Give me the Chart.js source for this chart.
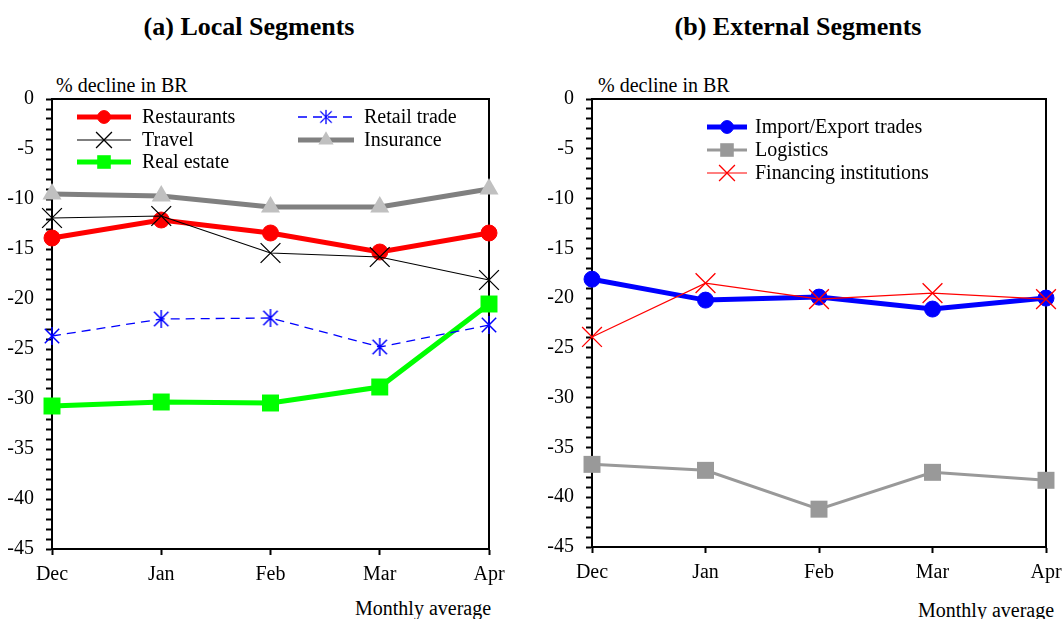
<!DOCTYPE html>
<html>
<head>
<meta charset="utf-8">
<script src="https://cdn.jsdelivr.net/npm/chart.js@4.4.1/dist/chart.umd.min.js"></script>
<style>
  html, body { margin: 0; padding: 0; background: #fff; width: 1063px; height: 619px; overflow: hidden; }
  canvas { position: absolute; top: 0; }
  .txt { position: absolute; font-family: "Liberation Serif", "Times New Roman", serif; color: #000; white-space: nowrap; line-height: 1; }
  .title { font-size: 26px; font-weight: bold; transform: translate(-50%, -50%); }
  .cap { font-size: 20px; transform: translateY(-50%); }
</style>
</head>
<body>
<div class="txt title" style="left:249px; top:27px;">(a) Local Segments</div>
<div class="txt title" style="left:798px; top:27px;">(b) External Segments</div>
<div class="txt cap" style="left:56px; top:85px;">% decline in BR</div>
<div class="txt cap" style="left:598px; top:85px;">% decline in BR</div>
<div class="txt cap" style="left:355px; top:608px;">Monthly average</div>
<div class="txt cap" style="left:918px; top:610px;">Monthly average</div>

<canvas id="local" width="531" height="619" style="left:0px;"></canvas>
<canvas id="external" width="540" height="619" style="left:540px;"></canvas>

<script>
// Months on the horizontal axis
const months = ['Dec', 'Jan', 'Feb', 'Mar', 'Apr'];

// (a) Local segments, % decline in BR
const restaurants = [-13.9, -12.1, -13.4, -15.3, -13.4];
const travel      = [-11.9, -11.7, -15.4, -15.8, -18.1];
const realEstate  = [-30.7, -30.3, -30.4, -28.8, -20.5];
const retailTrade = [-23.7, -22.0, -21.9, -24.8, -22.6];
const insurance   = [-9.5, -9.7, -10.8, -10.8, -9.0];

// (b) External segments, % decline in BR
const importExport = [-18.1, -20.2, -19.9, -21.1, -20.0];
const logistics    = [-36.7, -37.3, -41.2, -37.5, -38.3];
const financing    = [-23.9, -18.5, -20.1, -19.5, -20.1];

// Value axis
const yMin = -45, yMax = 0, yMajor = 5, yMinor = 1;

const FONT = '"Liberation Serif", "Times New Roman", serif';
const FONT_SIZE = 20;

// Asterisk marker: vertical stroke plus an X
function asterisk(color, size) {
  const c = document.createElement('canvas');
  c.width = size; c.height = size;
  const g = c.getContext('2d');
  const m = size / 2, r = size / 2 - 1;
  g.strokeStyle = color; g.lineWidth = 1.5;
  g.beginPath();
  g.moveTo(m, m - r); g.lineTo(m, m + r);
  const d = r * 0.8;
  g.moveTo(m - d, m - d); g.lineTo(m + d, m + d);
  g.moveTo(m + d, m - d); g.lineTo(m - d, m + d);
  g.stroke();
  return c;
}

// Marker drawing for the in-plot legend
function drawMarker(ctx, ds, x, y, scale) {
  const r = ds.pointRadius * scale;
  const style = ds.pointStyle;
  ctx.save();
  ctx.setLineDash([]);
  ctx.fillStyle = ds.pointBackgroundColor;
  ctx.strokeStyle = ds.pointBorderColor;
  ctx.lineWidth = ds.pointBorderWidth;
  if (style instanceof HTMLCanvasElement) {
    const s = style.width * scale;
    ctx.drawImage(style, x - s / 2, y - s / 2, s, s);
  } else if (style === 'circle') {
    ctx.beginPath(); ctx.arc(x, y, r, 0, Math.PI * 2); ctx.fill();
    if (ds.pointBorderWidth) ctx.stroke();
  } else if (style === 'rect') {
    const h = r * Math.SQRT1_2;
    ctx.fillRect(x - h, y - h, 2 * h, 2 * h);
  } else if (style === 'triangle') {
    ctx.beginPath();
    ctx.moveTo(x, y - r);
    ctx.lineTo(x + r * 0.866, y + r / 2);
    ctx.lineTo(x - r * 0.866, y + r / 2);
    ctx.closePath(); ctx.fill();
  } else if (style === 'crossRot') {
    const o = r * Math.SQRT1_2;
    ctx.beginPath();
    ctx.moveTo(x - o, y - o); ctx.lineTo(x + o, y + o);
    ctx.moveTo(x + o, y - o); ctx.lineTo(x - o, y + o);
    ctx.stroke();
  }
  ctx.restore();
}

// Legend drawn inside the plot area
const inlineLegend = {
  id: 'inlineLegend',
  afterDatasetsDraw(chart, args, opts) {
    const ctx = chart.ctx;
    opts.items.forEach(it => {
      const ds = chart.data.datasets[it.index];
      ctx.save();
      ctx.strokeStyle = ds.borderColor;
      ctx.lineWidth = ds.borderWidth;
      ctx.setLineDash(ds.borderDash || []);
      ctx.beginPath();
      ctx.moveTo(it.x0, it.y); ctx.lineTo(it.x1, it.y);
      ctx.stroke();
      ctx.restore();
      drawMarker(ctx, ds, (it.x0 + it.x1) / 2, it.y, 0.8);
      ctx.save();
      ctx.fillStyle = '#000';
      ctx.font = FONT_SIZE + 'px ' + FONT;
      ctx.textBaseline = 'middle';
      ctx.fillText(ds.label, it.tx, it.y + 1);
      ctx.restore();
    });
  }
};

// Top and right edges of the plot frame
const frame = {
  id: 'frame',
  beforeDatasetsDraw(chart) {
    const { ctx, chartArea: a } = chart;
    ctx.save();
    ctx.strokeStyle = '#000';
    ctx.lineWidth = 2;
    ctx.beginPath();
    ctx.moveTo(a.left, a.top);
    ctx.lineTo(a.right, a.top);
    ctx.lineTo(a.right, a.bottom);
    ctx.stroke();
    ctx.restore();
  }
};

function series(label, data, o) {
  return Object.assign({
    label, data,
    fill: false, tension: 0, clip: false,
    borderDash: [],
    pointBorderWidth: 0,
    pointHoverRadius: o.pointRadius
  }, o);
}

function makeChart(id, datasets, legendItems, geo) {
  datasets.forEach((d, i) => { d.order = datasets.length - i; });
  return new Chart(document.getElementById(id), {
    type: 'line',
    data: { labels: months, datasets },
    options: {
      responsive: false,
      animation: false,
      devicePixelRatio: 1,
      layout: { padding: { left: 0, top: geo.top, right: geo.right, bottom: 0 } },
      plugins: {
        legend: { display: false },
        tooltip: { enabled: false },
        title: { display: false },
        inlineLegend: { items: legendItems }
      },
      scales: {
        x: {
          type: 'category',
          offset: false,
          grid: { drawOnChartArea: false, offset: false, tickLength: 6, tickColor: '#000', tickWidth: 2 },
          border: { display: true, color: '#000', width: 2 },
          ticks: { color: '#000', font: { family: FONT, size: FONT_SIZE }, padding: 8, maxRotation: 0, autoSkip: false },
          afterFit(s) { s.height = geo.xHeight; }
        },
        y: {
          min: yMin, max: yMax,
          grid: { drawOnChartArea: false, tickLength: 6, tickColor: '#000', tickWidth: 2 },
          border: { display: true, color: '#000', width: 2 },
          ticks: {
            stepSize: yMinor, autoSkip: false, color: '#000',
            font: { family: FONT, size: FONT_SIZE }, padding: 12,
            callback: v => (Math.round(v) % yMajor === 0 ? String(Math.round(v)) : '')
          },
          afterFit(s) { s.width = 52; }
        }
      }
    },
    plugins: [frame, inlineLegend]
  });
}

// (a) Local segments
makeChart('local', [
  series('Restaurants', restaurants, {
    borderColor: '#ff0000', borderWidth: 5,
    pointStyle: 'circle', pointRadius: 8,
    pointBackgroundColor: '#ff0000', pointBorderColor: '#ff0000', pointBorderWidth: 1
  }),
  series('Travel', travel, {
    borderColor: '#000000', borderWidth: 1.2,
    pointStyle: 'crossRot', pointRadius: 14,
    pointBackgroundColor: '#000000', pointBorderColor: '#000000', pointBorderWidth: 1.3
  }),
  series('Real estate', realEstate, {
    borderColor: '#00ff00', borderWidth: 5,
    pointStyle: 'rect', pointRadius: 12,
    pointBackgroundColor: '#00ff00', pointBorderColor: '#00ff00'
  }),
  series('Retail trade', retailTrade, {
    borderColor: '#0000ff', borderWidth: 1.3, borderDash: [9, 6],
    pointStyle: asterisk('#0000ff', 20), pointRadius: 10,
    pointBackgroundColor: '#0000ff', pointBorderColor: '#0000ff'
  }),
  series('Insurance', insurance, {
    borderColor: '#808080', borderWidth: 5,
    pointStyle: 'triangle', pointRadius: 11,
    pointBackgroundColor: '#c0c0c0', pointBorderColor: '#c0c0c0'
  })
], [
  { index: 0, x0: 77, x1: 131, y: 117, tx: 142 },
  { index: 1, x0: 77, x1: 131, y: 140, tx: 142 },
  { index: 2, x0: 77, x1: 131, y: 162, tx: 142 },
  { index: 3, x0: 298, x1: 354, y: 117, tx: 364 },
  { index: 4, x0: 298, x1: 354, y: 140, tx: 364 }
], { top: 99, right: 42, xHeight: 70 });

// (b) External segments
makeChart('external', [
  series('Import/Export trades', importExport, {
    borderColor: '#0000ff', borderWidth: 5,
    pointStyle: 'circle', pointRadius: 8,
    pointBackgroundColor: '#0000ff', pointBorderColor: '#0000ff', pointBorderWidth: 1
  }),
  series('Logistics', logistics, {
    borderColor: '#999999', borderWidth: 3,
    pointStyle: 'rect', pointRadius: 12,
    pointBackgroundColor: '#999999', pointBorderColor: '#999999'
  }),
  series('Financing institutions', financing, {
    borderColor: '#ff0000', borderWidth: 1.2,
    pointStyle: 'crossRot', pointRadius: 14,
    pointBackgroundColor: '#ff0000', pointBorderColor: '#ff0000', pointBorderWidth: 1.3
  })
], [
  { index: 0, x0: 167, x1: 207, y: 127, tx: 215 },
  { index: 1, x0: 167, x1: 207, y: 150, tx: 215 },
  { index: 2, x0: 167, x1: 207, y: 173, tx: 215 }
], { top: 99, right: 34, xHeight: 72 });
</script>
</body>
</html>
